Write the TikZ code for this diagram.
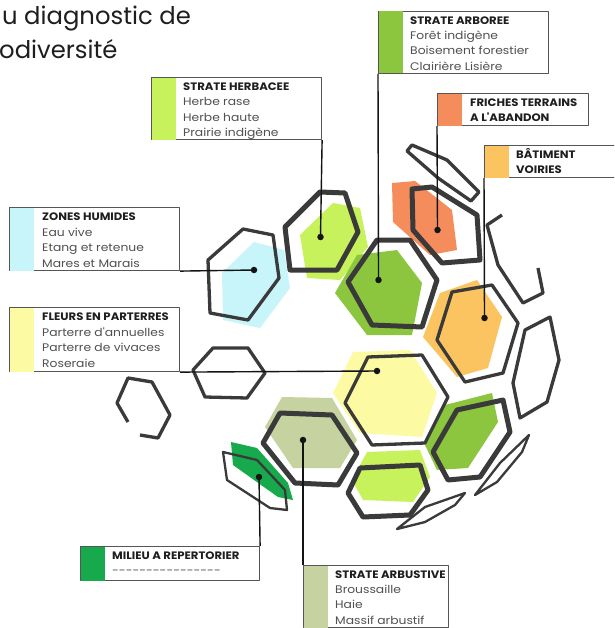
\documentclass[tikz,border=0pt]{standalone}
\usepackage{fontspec}
\setmainfont{Poppins}
\newfontfamily\itemfont[FakeStretch=1.12]{Poppins}
\newfontfamily\titlefont[FakeStretch=1.08]{Poppins}
\definecolor{hexcol}{RGB}{58,58,58}
\definecolor{boxcol}{RGB}{85,85,85}
\definecolor{conncol}{RGB}{20,20,20}
\definecolor{titlecol}{RGB}{30,30,30}
\definecolor{itemcol}{RGB}{80,80,80}
\definecolor{cHerb}{RGB}{200,242,92}
\definecolor{cArbo}{RGB}{140,198,63}
\definecolor{cFriche}{RGB}{245,140,92}
\definecolor{cBat}{RGB}{252,196,96}
\definecolor{cHum}{RGB}{200,245,250}
\definecolor{cFleur}{RGB}{252,250,162}
\definecolor{cMil}{RGB}{22,170,76}
\definecolor{cArbu}{RGB}{198,210,160}
\tikzset{
  card/.style={draw=boxcol, line width=1.1pt, rectangle, inner sep=0pt, anchor=north west},
  cardtitle/.style={anchor=base west, inner sep=0pt, font=\titlefont\fontsize{10.8}{12}\selectfont\bfseries, text=titlecol},
  carditem/.style={anchor=base west, inner sep=0pt, font=\itemfont\fontsize{11}{12}\selectfont, text=itemcol},
  bigtitle/.style={anchor=base west, inner sep=0pt, font=\fontsize{24.3}{28}\selectfont, text=titlecol},
  thickhex/.style={draw=hexcol, line width=5pt},
  medhex/.style={draw=hexcol, line width=3.3pt},
  thinhex/.style={draw=hexcol, line width=2.3pt},
  conn/.style={draw=conncol, line width=1.4pt},
  dotnode/.style={circle, fill=conncol, inner sep=0pt, minimum size=6.5pt},
}
\newcommand{\mkcard}[6]{% name, left, top, width, height, colour
  \node[card, minimum width=#4pt, minimum height=#5pt] (#1) at (#2,#3) {};
  \fill[#6] ([shift={(0.55,0.55)}]#1.north west) rectangle ([shift={(25,-0.55)}]#1.south west);
}
\newcommand{\dashrow}{-{}-{}-{}-{}-{}-{}-{}-{}-{}-{}-{}-{}-{}-{}-{}-}
\begin{document}
\begin{tikzpicture}[x=1pt,y=-1pt,line join=round]
\clip (0,0) rectangle (614,628);
\fill[white] (0,0) rectangle (614,628);

% title
\node[bigtitle] (title1) at (2,25) {u diagnostic de};
\node[bigtitle] (title2) at (-1,59) {odiversité};

% ---- colour fills
\fill[cHum] (222,273) -- (254,242) -- (284,250) -- (290,288) -- (260,328) -- (223,320) -- cycle;
\fill[cHerb] (300,235) -- (333,203) -- (360,208) -- (368,247) -- (340,280) -- (307,278) -- cycle;
\fill[cFriche] (392,183) -- (415,181) -- (452,210) -- (457,250) -- (430,255) -- (393,222) -- cycle;
\fill[cArbo] (335,293) -- (357,255) -- (397,250) -- (422,283) -- (412,335) -- (367,335) -- cycle;
\fill[cBat] (423,337) -- (440,293) -- (477,280) -- (502,317) -- (488,368) -- (457,377) -- cycle;
\fill[cFleur] (333,393) -- (353,352) -- (410,350) -- (437,393) -- (422,437) -- (360,433) -- cycle;
\fill[cArbu] (265,427) -- (282,397) -- (332,398) -- (357,440) -- (340,468) -- (293,468) -- cycle;
\fill[cArbo] (425,445) -- (445,405) -- (492,393) -- (498,422) -- (468,468) -- (437,470) -- cycle;
\fill[cHerb] (352,480) -- (367,452) -- (420,450) -- (430,477) -- (413,502) -- (363,500) -- cycle;
\fill[cMil] (231,442) -- (257,448) -- (288,483) -- (293,500) -- (278,497) -- (233,465) -- cycle;

% ---- outlines
\draw[thickhex] (285,227) -- (320,192) -- (345,193) -- (358,232) -- (337,270) -- (290,270) -- cycle;
\draw[thickhex] (348,282) -- (377,240) -- (410,240) -- (437,280) -- (422,327) -- (372,325) -- cycle;
\draw[thickhex] (412,189) -- (432,187) -- (477,215) -- (480,260) -- (442,263) -- (413,230) -- cycle;
\draw[thickhex] (263,443) -- (280,413) -- (332,415) -- (357,453) -- (338,485) -- (295,483) -- cycle;
\draw[thickhex] (433,452) -- (457,410) -- (503,400) -- (510,432) -- (480,477) -- (448,480) -- cycle;
\draw[thickhex] (348,493) -- (360,468) -- (420,465) -- (428,490) -- (410,515) -- (363,517) -- cycle;

\draw[medhex] (208,260) -- (243,229) -- (273,235) -- (279,278) -- (248,320) -- (210,313) -- cycle;
\draw[medhex] (437,340) -- (452,292) -- (492,285) -- (518,323) -- (503,373) -- (465,382) -- cycle;
\draw[medhex] (345,403) -- (368,357) -- (422,355) -- (448,397) -- (425,443) -- (372,445) -- cycle;
\draw[medhex] (193,370) -- (213,348) -- (248,348) -- (265,373) -- (247,398) -- (205,397) -- cycle;
\draw[medhex] (513,383) -- (525,330) -- (550,317) -- (559,360) -- (547,402) -- (520,418) -- cycle;
\draw[medhex] (407,151) -- (412,145) -- (447,160) -- (479,192) -- (471,201) -- (438,178) -- cycle;
\draw[medhex] (502,215) -- (487,225) -- (498,265) -- (523,303) -- (543,293) -- (538,268);
\draw[medhex] (128,422) -- (117,403) -- (128,378) -- (152,382) -- (170,415) -- (158,438) -- (140,435);

\draw[thinhex] (223,452) -- (257,460) -- (285,490) -- (287,510) -- (270,508) -- (227,480) -- cycle;
\draw[thinhex] (475,495) -- (500,463) -- (529,435) -- (522,452) -- (497,482) -- cycle;
\draw[thinhex] (397,529) -- (425,507) -- (465,493) -- (455,505) -- (425,522) -- cycle;

% ---- cards
\mkcard{herb}{151}{77}{170}{62}{cHerb}
\node[cardtitle] (herb-t) at (183,90.5) {STRATE HERBACEE};
\foreach \t [count=\i] in {Herbe rase, Herbe haute, Prairie indigène}
  \node[carditem] (herb-i\i) at (183,90.5+15.3*\i) {\t};

\mkcard{arbo}{378}{10.7}{170}{62}{cArbo}
\node[cardtitle] (arbo-t) at (410,24.2) {STRATE ARBOREE};
\foreach \t [count=\i] in {Forêt indigène, Boisement forestier, Clairière Lisière}
  \node[carditem] (arbo-i\i) at (410,24.2+15.3*\i) {\t};

\mkcard{friche}{437}{93}{151}{32}{cFriche}
\node[cardtitle] (friche-t1) at (470,106.5) {FRICHES TERRAINS};
\node[cardtitle] (friche-t2) at (470,121.8) {A L'ABANDON};

\mkcard{bat}{484}{145}{150}{32}{cBat}
\node[cardtitle] (bat-t1) at (516,158.3) {BÂTIMENT};
\node[cardtitle] (bat-t2) at (516,173.6) {VOIRIES};

\mkcard{hum}{9}{207}{170}{63}{cHum}
\node[cardtitle] (hum-t) at (42,220.5) {ZONES HUMIDES};
\foreach \t [count=\i] in {Eau vive, Etang et retenue, Mares et Marais}
  \node[carditem] (hum-i\i) at (42,220.5+15.5*\i) {\t};

\mkcard{fleur}{9}{307}{170}{64}{cFleur}
\node[cardtitle] (fleur-t) at (42,320.5) {FLEURS EN PARTERRES};
\foreach \t [count=\i] in {Parterre d'annuelles, Parterre de vivaces, Roseraie}
  \node[carditem] (fleur-i\i) at (42,320.5+15.5*\i) {\t};

\mkcard{mil}{80}{546}{179}{34}{cMil}
\node[cardtitle] (mil-t) at (112,559.3) {MILIEU A REPERTORIER};
\node[carditem] (mil-i1) at (112,574.6) {\dashrow};

\mkcard{arbu}{303}{565}{145}{62}{cArbu}
\node[cardtitle] (arbu-t) at (335,578.3) {STRATE ARBUSTIVE};
\foreach \t [count=\i] in {Broussaille, Haie, Massif arbustif}
  \node[carditem] (arbu-i\i) at (335,578.3+15.3*\i) {\t};

% ---- dots
\node[dotnode] (herb-d) at (320.5,237) {};
\node[dotnode] (arbo-d) at (378.5,280) {};
\node[dotnode] (friche-d) at (437.5,230) {};
\node[dotnode] (bat-d) at (484.5,318) {};
\node[dotnode] (hum-d) at (254,270) {};
\node[dotnode] (fleur-d) at (377,371) {};
\node[dotnode] (mil-d) at (259,477) {};
\node[dotnode] (arbu-d) at (303,440) {};

% ---- connectors
\draw[conn] (herb.south east) -- (herb-d.center);
\draw[conn] (arbo.south west) -- (arbo-d.center);
\draw[conn] (friche.south west) -- (friche-d.center);
\draw[conn] (bat.south west) -- (bat-d.center);
\draw[conn] (hum.south east) -- (hum-d.center);
\draw[conn] (fleur.south east) -- (fleur-d.center);
\draw[conn] (mil.north east) -- (mil-d.center);
\draw[conn] (arbu.north west) -- (arbu-d.center);
\end{tikzpicture}
\end{document}
